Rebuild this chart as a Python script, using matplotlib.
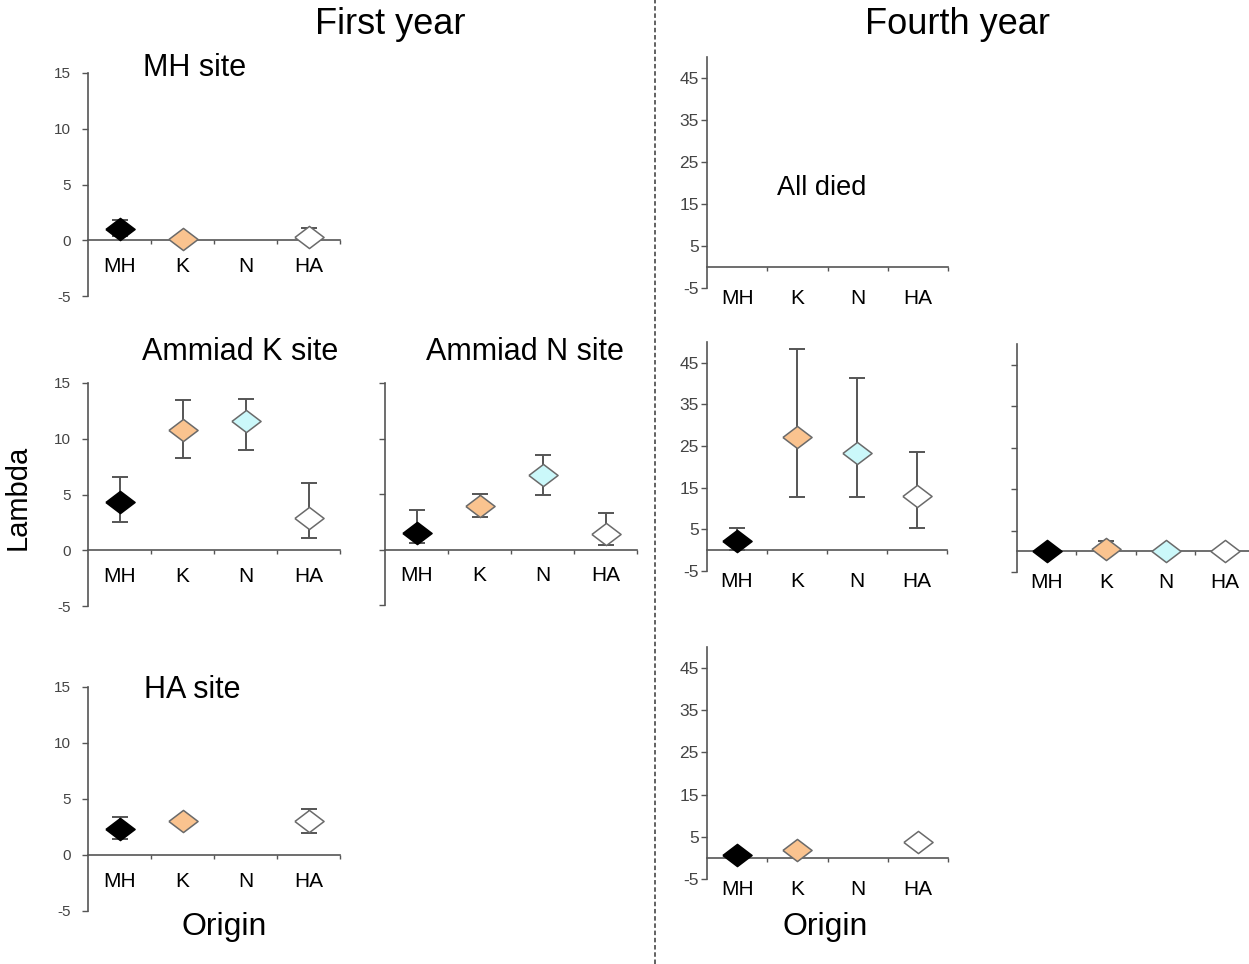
import numpy as np
import matplotlib
matplotlib.use("Agg")
import matplotlib.pyplot as plt

plt.rcParams['font.family'] = ['Liberation Sans', 'DejaVu Sans']

nan = np.nan
origins = ['MH', 'K', 'N', 'HA']
colors = ['#000000', '#FAC38F', '#CBF8FA', '#FFFFFF']
edges = ['#000000', '#6a6a6a', '#6a6a6a', '#6a6a6a']

# First year: mean, lower and upper end of the error bar
y1_mh_mean = [1.0, 0.1, nan, 0.3]
y1_mh_lo = [0.4, nan, nan, 0.3]
y1_mh_hi = [1.8, nan, nan, 1.1]

y1_k_mean = [4.3, 10.8, 11.6, 2.9]
y1_k_lo = [2.5, 8.3, 9.0, 1.1]
y1_k_hi = [6.6, 13.5, 13.6, 6.0]

y1_n_mean = [1.5, 3.9, 6.7, 1.4]
y1_n_lo = [0.6, 2.9, 4.9, 0.4]
y1_n_hi = [3.6, 5.0, 8.5, 3.3]

y1_ha_mean = [2.3, 3.0, nan, 3.0]
y1_ha_lo = [1.4, nan, nan, 2.0]
y1_ha_hi = [3.4, nan, nan, 4.1]

# Fourth year
y4_k_mean = [2.2, 27.1, 23.3, 13.0]
y4_k_lo = [0.0, 12.7, 12.7, 5.3]
y4_k_hi = [5.3, 48.3, 41.3, 23.5]

y4_n_mean = [0.0, 0.5, 0.0, 0.0]
y4_n_lo = [nan, 0.0, nan, nan]
y4_n_hi = [nan, 2.4, nan, nan]

y4_ha_mean = [0.7, 1.9, nan, 3.8]
y4_ha_lo = [nan, nan, nan, nan]
y4_ha_hi = [nan, nan, nan, nan]

y1_ticks = [-5, 0, 5, 10, 15]
y4_ticks = [-5, 5, 15, 25, 35, 45]

W, H = 1249, 964
fig = plt.figure(figsize=(W / 100, H / 100), dpi=100)

diamond = [(-1, 0), (0, 0.76), (1, 0), (0, -0.76), (-1, 0)]


def px_axes(x0, ytop, x1, ybot):
    return fig.add_axes([x0 / W, 1 - ybot / H, (x1 - x0) / W, (ybot - ytop) / H])


def panel(box, ylim, yticks, labels=True, pad=6, tsize=11, xpad=12):
    ax = px_axes(*box)
    ax.set_xlim(0.5, 4.5)
    ax.set_ylim(*ylim)
    for s in ['top', 'right']:
        ax.spines[s].set_visible(False)
    ax.spines['bottom'].set_position(('data', 0))
    for s in ['left', 'bottom']:
        ax.spines[s].set_color('#555555')
        ax.spines[s].set_linewidth(1.2)
    ax.set_yticks(yticks)
    if labels:
        ax.set_yticklabels([str(t) for t in yticks])
    else:
        ax.set_yticklabels([])
    ax.tick_params(axis='y', direction='out', length=4, width=1, color='#555555',
                   labelsize=tsize, labelcolor='#444444', pad=pad)
    ax.set_xticks([1.5, 2.5, 3.5, 4.5])
    ax.set_xticklabels([])
    ax.tick_params(axis='x', which='major', direction='out', length=3, width=1, color='#555555')
    ax.set_xticks([1, 2, 3, 4], minor=True)
    ax.set_xticklabels(origins, minor=True)
    ax.tick_params(axis='x', which='minor', length=0, labelsize=15, pad=xpad)
    ax.patch.set_alpha(0)
    return ax


def draw(ax, mean, lo, hi):
    x = np.arange(1, 5)
    mean = np.array(mean, float)
    lo = np.array(lo, float)
    hi = np.array(hi, float)
    for i in range(4):
        if np.isnan(mean[i]):
            continue
        if not np.isnan(hi[i]):
            lo_i = lo[i] if not np.isnan(lo[i]) else mean[i]
            ax.errorbar([x[i]], [mean[i]], yerr=[[mean[i] - lo_i], [hi[i] - mean[i]]],
                        fmt='none', ecolor='#555555', elinewidth=1.4, capsize=5.5,
                        capthick=1.4, zorder=2, clip_on=False)
        ax.plot([x[i]], [mean[i]], marker=diamond, markersize=21, color=colors[i],
                markeredgecolor=edges[i], markeredgewidth=1.1, linestyle='none',
                zorder=3, clip_on=False)


# First year panels
a1 = panel((88, 73, 340, 296), (-5, 15), y1_ticks, pad=8)
draw(a1, y1_mh_mean, y1_mh_lo, y1_mh_hi)
a2 = panel((88, 383, 340, 606), (-5, 15), y1_ticks, pad=8)
draw(a2, y1_k_mean, y1_k_lo, y1_k_hi)
a3 = panel((385, 383, 637, 605), (-5, 15), y1_ticks, labels=False)
draw(a3, y1_n_mean, y1_n_lo, y1_n_hi)
a4 = panel((88, 687, 340, 911), (-5, 15), y1_ticks, pad=8)
draw(a4, y1_ha_mean, y1_ha_lo, y1_ha_hi)

# Fourth year panels
b1 = panel((707, 57, 948, 288), (-5, 50), y4_ticks, pad=2, tsize=12.5, xpad=16)
b2 = panel((707, 342, 947, 571), (-5, 50), y4_ticks, pad=2, tsize=12.5, xpad=16)
draw(b2, y4_k_mean, y4_k_lo, y4_k_hi)
b3 = panel((1017, 344, 1255, 572), (-5, 50), y4_ticks, labels=False, xpad=16)
draw(b3, y4_n_mean, y4_n_lo, y4_n_hi)
b4 = panel((707, 647, 948, 879), (-5, 50), y4_ticks, pad=2, tsize=12.5, xpad=16)
draw(b4, y4_ha_mean, y4_ha_lo, y4_ha_hi)


def ftext(x, y, s, size, **kw):
    fig.text(x / W, 1 - y / H, s, fontsize=size, ha='center', va='center', **kw)


ftext(390, 25, 'First year', 26)
ftext(957, 25, 'Fourth year', 26)
ftext(195, 68, 'MH site', 22)
ftext(240, 352, 'Ammiad K site', 22)
ftext(525, 352, 'Ammiad N site', 22)
ftext(192, 690, 'HA site', 22)
ftext(822, 188, 'All died', 19.5)
ftext(18, 497, 'Lambda', 21, rotation=90)
ftext(224, 927, 'Origin', 23)
ftext(825, 927, 'Origin', 23)

fig.add_artist(plt.Line2D([655 / W, 655 / W], [0, 1], color='#555555', lw=1.3,
                          linestyle=(0, (2.5, 1.5))))

fig.savefig('out.png', dpi=100)
